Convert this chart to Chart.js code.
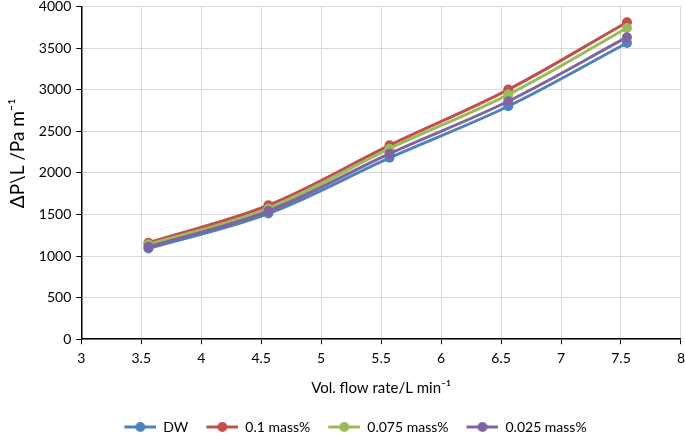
<!DOCTYPE html>
<html>
<head>
<meta charset="utf-8">
<script src="https://cdn.jsdelivr.net/npm/chart.js@4"></script>
<style>
  html, body { margin: 0; padding: 0; background: #fff; width: 685px; height: 437px; overflow: hidden; position: relative; }
  #wrap { position: absolute; left: 0; top: -7px; width: 691px; height: 444px; }
</style>
</head>
<body>
<div id="wrap"><canvas id="flowChart"></canvas></div>
<script>
const flowRates = [3.56, 4.56, 5.57, 6.56, 7.55];
const seriesNames = ['DW', '0.1 mass%', '0.075 mass%', '0.025 mass%'];
const dwValues = [1090, 1510, 2180, 2800, 3560];
const mass01Values = [1160, 1610, 2330, 3000, 3810];
const mass0075Values = [1140, 1570, 2290, 2940, 3740];
const mass0025Values = [1110, 1540, 2230, 2860, 3630];
const yTicks = [0, 500, 1000, 1500, 2000, 2500, 3000, 3500, 4000];

const colors = ['#4F81BD', '#C0504D', '#9BBB59', '#8064A2'];
const allValues = [dwValues, mass01Values, mass0075Values, mass0025Values];

const FONT = 'Lato, "Open Sans", sans-serif';

// line + dot image for the legend, like Excel; left part is blank spacing
const legendIcon = (color) => {
  const c = document.createElement('canvas');
  c.width = 46; c.height = 12;
  const g = c.getContext('2d');
  g.strokeStyle = color;
  g.lineWidth = 3;
  g.beginPath(); g.moveTo(14, 6); g.lineTo(46, 6); g.stroke();
  g.fillStyle = color;
  g.beginPath(); g.arc(30, 6, 5, 0, Math.PI * 2); g.fill();
  return c;
};

const datasets = seriesNames.map((name, i) => ({
  label: name,
  data: flowRates.map((x, j) => ({ x: x, y: allValues[i][j] })),
  borderColor: colors[i],
  backgroundColor: colors[i],
  borderWidth: 3,
  pointRadius: 5,
  pointHoverRadius: 5,
  pointBorderWidth: 0,
  tension: 0.35,
  order: seriesNames.length - i
}));

const ctx = document.getElementById('flowChart').getContext('2d');
new Chart(ctx, {
  type: 'line',
  data: { datasets: datasets },
  options: {
    responsive: true,
    maintainAspectRatio: false,
    animation: false,
    layout: { padding: { left: 6, right: 0, top: 0, bottom: -7 } },
    scales: {
      x: {
        type: 'linear',
        min: 3,
        max: 8,
        ticks: {
          stepSize: 0.5,
          color: '#000',
          font: { family: FONT, size: 14 },
          padding: 6,
          callback: (v) => v
        },
        grid: { color: '#d9d9d9', tickColor: '#000', tickLength: 5, lineWidth: 1 },
        border: { color: '#000', width: 1.5 },
        title: {
          display: true,
          text: 'Vol. flow rate/L min\u207B\u00B9',
          color: '#000',
          font: { family: FONT, size: 15 },
          padding: { top: 6, bottom: 19 }
        }
      },
      y: {
        min: 0,
        max: 4000,
        afterBuildTicks: (axis) => { axis.ticks = yTicks.map(v => ({ value: v })); },
        ticks: {
          color: '#000',
          font: { family: FONT, size: 14 },
          padding: 5,
          callback: (v) => String(v)
        },
        grid: { color: '#d9d9d9', tickColor: '#000', tickLength: 5, lineWidth: 1 },
        border: { color: '#000', width: 1.5 },
        title: {
          display: true,
          // leading spaces push the title up a bit, as Excel placed it
          text: '        \u0394P\\L /Pa m\u207B\u00B9',
          color: '#000',
          font: { family: FONT, size: 19 },
          padding: { top: 0, bottom: 5 }
        }
      }
    },
    plugins: {
      legend: {
        position: 'bottom',
        labels: {
          usePointStyle: true,
          pointStyleWidth: 46,
          color: '#000',
          font: { family: FONT, size: 14 },
          padding: 4,
          sort: (a, b) => a.datasetIndex - b.datasetIndex,
          generateLabels: (chart) => chart.data.datasets.map((ds, i) => ({
            text: ds.label,
            pointStyle: legendIcon(ds.borderColor),
            fillStyle: ds.borderColor,
            strokeStyle: ds.borderColor,
            lineWidth: 0,
            hidden: false,
            datasetIndex: i,
            fontColor: '#000'
          }))
        }
      },
      tooltip: { enabled: false }
    }
  }
});
</script>
</body>
</html>
